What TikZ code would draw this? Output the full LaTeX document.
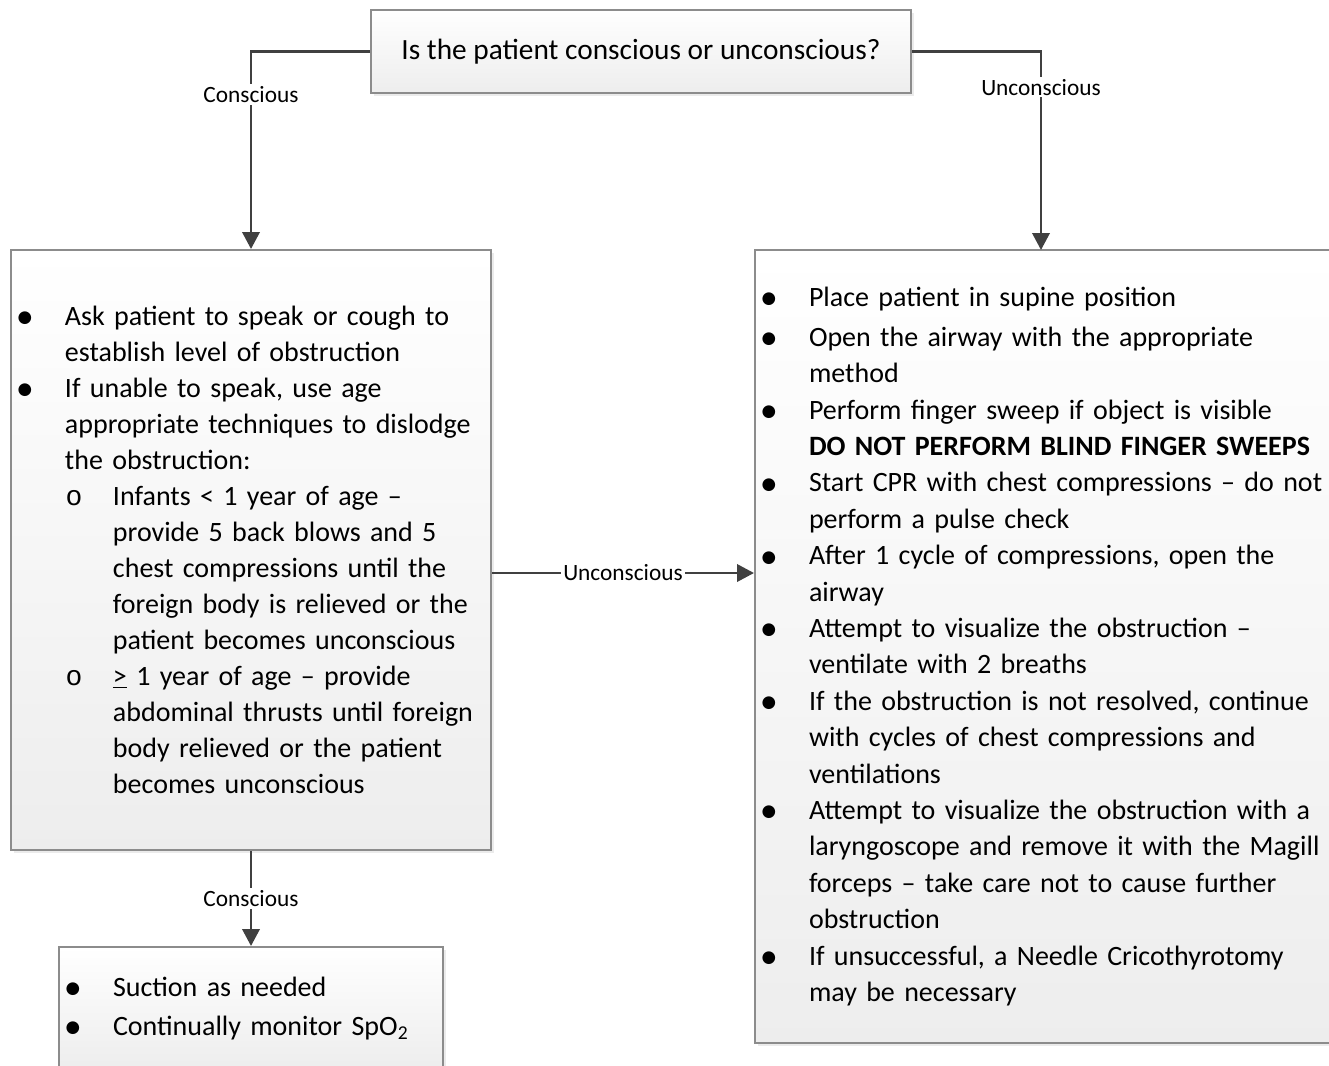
\documentclass[tikz,border=0pt]{standalone}
\usepackage{fontspec}
\setmainfont{Carlito}
\newfontfamily\dejavu{DejaVu Sans}
\newfontfamily\cour{Liberation Mono}
\usetikzlibrary{shadows,arrows.meta}
\setlength{\parskip}{0pt}
\newcommand\mydot{{\dejavu\fontsize{12.5}{12.5}\selectfont\raisebox{2pt}{●}}}
\newcommand\myo{{\cour o}}
\newcommand\BL[1]{\noindent\makebox[40.5pt][l]{\makebox[21pt][c]{\mydot}}\mbox{#1}\par}
\newcommand\CL[1]{\noindent\hspace*{40.5pt}\mbox{#1}\par}
\newcommand\SL[1]{\noindent\makebox[76.5pt][l]{\hspace*{36pt}\makebox[22.5pt][c]{\myo}}\mbox{#1}\par}
\newcommand\SC[1]{\noindent\hspace*{76.5pt}\mbox{#1}\par}
\begin{document}
\begin{tikzpicture}[x=0.75pt,y=-0.75pt,
  box/.style={draw=black!45, line width=1.5pt, top color=white, bottom color=black!7,
    drop shadow={shadow xshift=2.5pt, shadow yshift=-2.5pt, fill=black!8, opacity=1},
    inner sep=0pt, anchor=center},
  conn/.style={draw=black!75, line width=2pt, -{Triangle[width=13pt,length=12.75pt]}},
  lbl/.style={fill=white, inner sep=1.5pt, font=\fontsize{17.5}{21}\selectfont, text=black}]
\useasboundingbox (0,0) rectangle (1329,1065);
\node[box, minimum width=405pt, minimum height=62.25pt, font=\fontsize{22}{27}\selectfont] (top) at (641,51.5)
  {\raisebox{-1.2pt}{Is the patient conscious or unconscious?}};
\node[box, minimum width=360pt, minimum height=450pt, text width=360pt, align=left,
  font=\fontsize{21}{27}\selectfont] (left) at (251,550) {%
\BL{Ask patient to speak or cough to}
\CL{establish level of obstruction}
\BL{If unable to speak, use age}
\CL{appropriate techniques to dislodge}
\CL{the obstruction:}
\SL{Infants < 1 year of age –}
\SC{provide 5 back blows and 5}
\SC{chest compressions until the}
\SC{foreign body is relieved or the}
\SC{patient becomes unconscious}
\SL{\underline{>} 1 year of age – provide}
\SC{abdominal thrusts until foreign}
\SC{body relieved or the patient}
\SC{becomes unconscious}};
\node[box, minimum width=450pt, minimum height=594.75pt, text width=450pt, align=left,
  font=\fontsize{21}{27.3}\selectfont] (right) at (1055,646.5) {%
\BL{Place patient in supine position}\vspace{2.7pt}
\BL{Open the airway with the appropriate}
\CL{method}
\BL{Perform finger sweep if object is visible}
\CL{\textbf{DO NOT PERFORM BLIND FINGER SWEEPS}}
\BL{Start CPR with chest compressions – do not}
\CL{perform a pulse check}
\BL{After 1 cycle of compressions, open the}
\CL{airway}
\BL{Attempt to visualize the obstruction –}
\CL{ventilate with 2 breaths}
\BL{If the obstruction is not resolved, continue}
\CL{with cycles of chest compressions and}
\CL{ventilations}
\BL{Attempt to visualize the obstruction with a}
\CL{laryngoscope and remove it with the Magill}
\CL{forceps – take care not to cause further}
\CL{obstruction}
\BL{If unsuccessful, a Needle Cricothyrotomy}
\CL{may be necessary}};
\node[box, minimum width=288pt, minimum height=92.25pt, text width=288pt, align=left,
  font=\fontsize{21}{29.25}\selectfont] (bot) at (251,1008.5) {%
\BL{Suction as needed}
\BL{Continually monitor SpO\textsubscript{2}}};
\coordinate (rarr) at (1041,250);
\coordinate (midy) at (0,573);
\draw[conn] (top.west) -| node[lbl, pos=0.609]{Conscious} (left.north);
\draw[conn] (top.east) -| node[lbl, pos=0.59]{Unconscious} (rarr);
\draw[conn] (left.east |- midy) -- node[lbl]{Unconscious} (right.west |- midy);
\draw[conn] (left.south) -- node[lbl]{Conscious} (bot.north);
\end{tikzpicture}
\end{document}
